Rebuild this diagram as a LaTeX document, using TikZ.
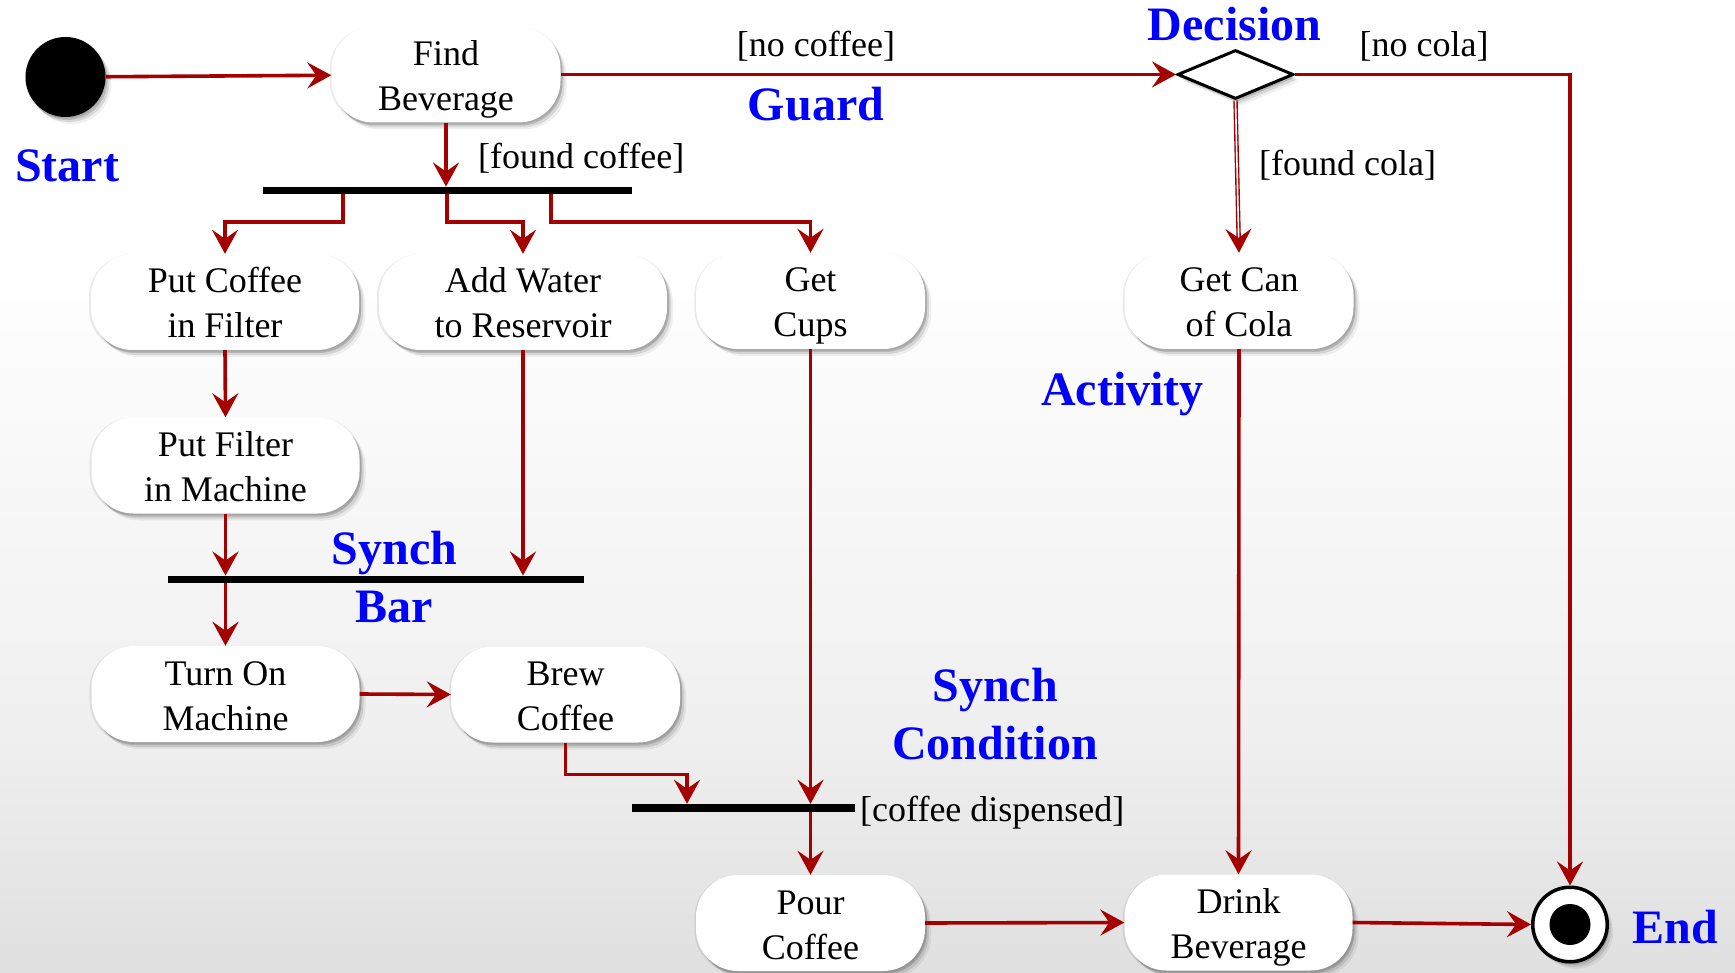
\documentclass[tikz,border=0pt]{standalone}
\usepackage{fontspec}
\setmainfont{Liberation Serif}
\usetikzlibrary{arrows.meta,shapes.geometric,shadows}

\definecolor{flowred}{RGB}{165,0,0}
\definecolor{notecolor}{RGB}{0,0,255}
\definecolor{bgbottom}{RGB}{192,192,192}
\definecolor{bgmiddle}{RGB}{240,240,240}

\pgfdeclareverticalshading{slidebg}{100bp}{color(0bp)=(bgbottom); color(38bp)=(bgmiddle); color(62bp)=(white); color(100bp)=(white)}

\newcommand{\acttext}{\fontsize{36pt}{45pt}\selectfont}
\newcommand{\notetext}{\fontsize{48pt}{58pt}\selectfont\bfseries}

\tikzset{
  softshadow/.style={
    drop shadow={shadow xshift=0pt, shadow yshift=-1pt, shadow scale=1.015, opacity=0.08, fill=black},
    drop shadow={shadow xshift=2pt, shadow yshift=-3pt, opacity=0.14, fill=black},
    drop shadow={shadow xshift=4pt, shadow yshift=-5pt, opacity=0.10, fill=black},
    drop shadow={shadow xshift=6pt, shadow yshift=-7pt, opacity=0.06, fill=black}},
  act/.style={rectangle, rounded corners=42pt, fill=white, minimum height=96pt,
    inner sep=0pt, align=center, font=\acttext, text height=76pt, text depth=4pt,
    softshadow},
  initstate/.style={circle, fill=black, minimum size=80pt, inner sep=0pt, softshadow},
  endstate/.style={circle, draw=black, line width=3.5pt, fill=white, minimum size=74.5pt,
    inner sep=0pt, softshadow,
    path picture={\fill[black] (path picture bounding box.center) circle (20.5pt);}},
  choice/.style={diamond, draw=black, line width=3pt, fill=white, minimum width=116pt,
    minimum height=49pt, inner sep=0pt, softshadow},
  syncbar/.style={rectangle, fill=black, inner sep=0pt, minimum height=7.5pt},
  flow/.style={draw=flowred, line width=3.6pt,
    -{Stealth[length=24pt,width=26pt,inset=9pt]}},
  dflow/.style={draw=flowred, line width=1.4pt, double=white, double distance=1.6pt,
    -{Stealth[length=24pt,width=26pt,inset=9pt]}},
  guardtext/.style={font=\acttext, inner sep=0pt},
  note/.style={font=\notetext, text=notecolor, inner sep=0pt, align=center},
}

\begin{document}
\begin{tikzpicture}[x=1pt,y=-1pt]
  % slide background
  \shade[shading=slidebg] (0,0) rectangle (1735,973);
  \useasboundingbox (0,0) rectangle (1735,973);

  % start / end / decision
  \node[initstate] (start) at (65.5,77) {};
  \node[choice] (decision) at (1235.5,74.5) {};
  \node[endstate] (final) at (1570,924.5) {};

  % activities
  \node[act, minimum width=229pt] (find) at (446,74.5) {Find\\Beverage};
  \node[act, minimum width=268pt] (putcoffee) at (225,302) {Put Coffee\\in Filter};
  \node[act, minimum width=288pt] (addwater) at (523,302) {Add Water\\to Reservoir};
  \node[act, minimum width=229pt] (getcups) at (810.5,301) {Get\\Cups};
  \node[act, minimum width=229pt] (getcola) at (1239,301) {Get Can\\of Cola};
  \node[act, minimum width=268pt] (putfilter) at (225.5,465.5) {Put Filter\\in Machine};
  \node[act, minimum width=268pt] (turnon) at (225.5,694) {Turn On\\Machine};
  \node[act, minimum width=229pt] (brew) at (565.5,694.5) {Brew\\Coffee};
  \node[act, minimum width=229pt] (pour) at (810.5,923) {Pour\\Coffee};
  \node[act, minimum width=228pt] (drink) at (1238.5,922.5) {Drink\\Beverage};

  % synchronisation bars
  \node[syncbar, minimum width=369pt] (bar1) at (447.5,190.5) {};
  \node[syncbar, minimum width=416pt] (bar2) at (376,579.5) {};
  \node[syncbar, minimum width=223pt, minimum height=8pt] (bar3) at (743.5,808) {};

  % bend points
  \coordinate (fork1) at (343,222);
  \coordinate (fork2) at (447,222);
  \coordinate (fork3) at (551,222);
  \coordinate (join1) at (687,774.5);

  % transitions
  \draw[flow] (start) -- (find);
  \draw[flow] (find.east) -- (decision.west);
  \draw[flow] (decision.east) -| (final.north);
  \draw[dflow] (decision.south) -- (getcola.north);
  \draw[flow] (find.south) -- (find.south |- bar1.north);
  \draw[flow] (fork1 |- bar1.south) -- (fork1) -| (putcoffee.north);
  \draw[flow] (fork2 |- bar1.south) -- (fork2) -| (addwater.north);
  \draw[flow] (fork3 |- bar1.south) -- (fork3) -| (getcups.north);
  \draw[flow] (putcoffee.south) -- (putfilter.north);
  \draw[flow] (putfilter.south) -- (putfilter.south |- bar2.north);
  \draw[flow] (addwater.south) -- (addwater.south |- bar2.north);
  \draw[flow] (turnon.north |- bar2.south) -- (turnon.north);
  \draw[flow] (turnon.east) -- (brew.west);
  \draw[flow] (brew.south) |- (join1) -- (join1 |- bar3.north);
  \draw[flow] (getcups.south) -- (getcups.south |- bar3.north);
  \draw[flow] (pour.north |- bar3.south) -- (pour.north);
  \draw[flow] (pour.east) -- (drink.west);
  \draw[flow] (getcola.south) -- (drink.north);
  \draw[flow] (drink.east) -- (final.west);

  % guard conditions
  \node[guardtext, anchor=base west] (gfound) at (478,168.5) {[found coffee]};
  \node[guardtext, anchor=base] (gnocoffee) at (816,57) {[no coffee]};
  \node[guardtext, anchor=base] (gnocola) at (1424,57) {[no cola]};
  \node[guardtext, anchor=base west] (gcola) at (1259,175.5) {[found cola]};
  \node[guardtext, anchor=base west] (gdispensed) at (860,821.5) {[coffee dispensed]};

  % annotations (base anchor sits on the last line)
  \node[note, anchor=base] (lstart) at (67,182) {Start};
  \node[note, anchor=base] (lguard) at (816,121) {Guard};
  \node[note, anchor=base] (ldecision) at (1234.5,41) {Decision};
  \node[note, anchor=base] (lactivity) at (1122.5,406) {Activity};
  \node[note, anchor=base] (lsynchbar) at (394.5,622) {Synch\\Bar};
  \node[note, anchor=base] (lsynchcond) at (995,759) {Synch\\Condition};
  \node[note, anchor=base] (lend) at (1675,943) {End};
\end{tikzpicture}
\end{document}
